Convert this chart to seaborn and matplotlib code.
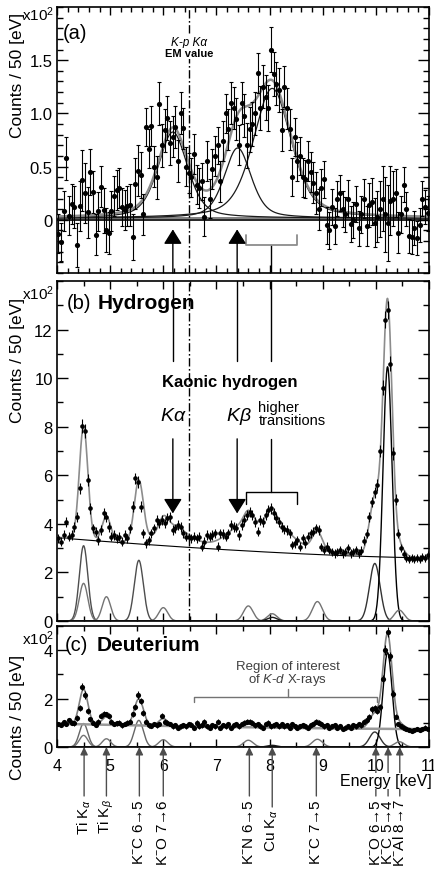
import numpy as np
import pandas as pd
import matplotlib
matplotlib.use("Agg")
import matplotlib.pyplot as plt
import seaborn as sns
from matplotlib.ticker import MultipleLocator
from matplotlib.patches import ArrowStyle
import matplotlib.transforms as mtransforms

# ---------------- data (counts in units of 10^2 per 50 eV bin) ----------------
bin_first_center = 4.025
bin_width = 0.05
n_bins = 140

# (a) background-subtracted K-p spectrum
resid_a = [
    -0.13, -0.21, 0.08, 0.58, 0.04, 0.15, 0.12, -0.24, 0.13, 0.37, 0.25, 0.07, 0.45, 0.26, -0.14, 0.08, 0.31, 0.09, -0.10, -0.12,
    0.08, 0.22, 0.28, 0.30, 0.12, 0.09, 0.13, 0.14, -0.16, 0.34, 0.46, 0.42, 0.05, 0.87, 0.67, 0.88, 0.50, 0.40, 1.09, 0.70,
    0.84, 0.96, 0.72, 0.78, 0.87, 0.55, 1.00, 0.86, 0.50, 0.44, 0.40, 0.62, 0.33, 0.30, 0.36, 0.03, 0.55, 0.20, 0.48, 0.60,
    0.70, 0.36, 0.74, 1.00, 0.85, 1.10, 1.05, 0.95, 0.70, 1.10, 0.98, 0.70, 0.85, 0.90, 1.00, 1.38, 1.05, 1.25, 1.15, 1.05,
    1.60, 1.37, 1.28, 1.22, 0.84, 1.25, 1.05, 0.85, 0.40, 0.78, 0.55, 0.60, 0.40, 0.38, 0.55, 0.45, 0.35, 0.25, 0.10, 0.30,
    0.38, -0.05, -0.10, 0.12, -0.06, 0.20, 0.25, 0.10, 0.05, 0.20, -0.04, 0.00, 0.15, -0.08, 0.05, 0.20, -0.06, 0.14, 0.17, -0.03,
    0.03, 0.10, 0.20, 0.05, -0.03, 0.18, 0.20, 0.25, -0.12, 0.05, 0.33, 0.10, -0.15, -0.16, -0.08, -0.17, -0.05, 0.20, 0.12, 0.06,
]

# (b) hydrogen spectrum
counts_b = [
    3.40, 3.27, 3.54, 4.09, 3.47, 3.54, 3.88, 4.29, 5.46, 8.04, 7.83, 5.80, 4.64, 3.81, 3.68, 3.33, 3.74, 4.43, 4.27, 3.88,
    3.47, 3.54, 3.40, 3.47, 3.27, 3.54, 3.40, 3.81, 4.71, 5.87, 5.73, 4.71, 3.61, 3.20, 3.33, 3.61, 3.81, 4.16, 4.02, 4.16,
    4.02, 4.23, 4.29, 3.74, 3.81, 3.95, 3.88, 3.61, 3.47, 3.44, 3.40, 3.47, 3.40, 3.47, 3.06, 3.27, 3.54, 3.47, 3.54, 3.61,
    3.06, 3.61, 3.58, 3.47, 3.61, 3.95, 3.88, 3.85, 3.54, 3.95, 4.16, 4.36, 4.50, 4.36, 4.09, 3.68, 4.16, 4.09, 4.36, 4.57,
    4.64, 4.43, 4.23, 4.09, 3.88, 3.77, 3.74, 3.61, 3.13, 3.20, 3.33, 3.06, 3.40, 3.20, 3.47, 3.61, 3.68, 3.81, 3.74, 3.05,
    2.92, 3.06, 2.92, 2.85, 2.78, 2.85, 2.92, 2.78, 2.85, 2.99, 2.78, 2.85, 2.92, 2.78, 2.90, 3.30, 3.60, 4.30, 4.90, 5.30,
    5.60, 7.00, 9.60, 12.40, 12.80, 10.60, 6.90, 5.00, 3.60, 3.00, 2.75, 2.60, 2.55, 2.60, 2.55, 2.60, 2.55, 2.65, 2.60, 2.70,
]

# (c) deuterium spectrum
counts_c = [
    0.95, 0.92, 1.02, 0.95, 1.10, 1.00, 0.98, 1.20, 1.60, 2.50, 2.15, 1.50, 1.15, 1.00, 0.92, 1.05, 1.30, 1.38, 1.35, 1.30,
    1.05, 0.95, 0.98, 1.00, 0.90, 0.95, 1.00, 1.05, 1.35, 1.65, 2.15, 1.90, 1.40, 1.05, 0.90, 0.88, 0.95, 0.90, 0.95, 1.30,
    1.05, 1.00, 0.95, 0.85, 0.90, 0.80, 0.85, 0.90, 0.85, 0.95, 0.92, 0.80, 1.00, 0.85, 0.90, 1.05, 0.85, 0.80, 0.90, 0.85,
    1.05, 0.80, 0.90, 0.85, 0.95, 0.80, 0.90, 0.95, 0.85, 0.95, 1.00, 1.05, 1.05, 1.00, 0.90, 0.95, 0.85, 0.80, 0.95, 1.00,
    0.85, 0.90, 0.95, 0.85, 0.95, 0.85, 0.90, 0.80, 0.95, 0.85, 0.80, 0.85, 0.90, 0.85, 0.80, 0.90, 0.95, 1.05, 1.00, 0.95,
    0.85, 0.90, 0.80, 0.85, 0.90, 0.80, 0.85, 0.75, 0.80, 0.85, 0.80, 0.90, 0.85, 0.95, 0.90, 1.05, 1.10, 1.25, 1.55, 1.60,
    1.50, 1.65, 2.80, 4.00, 4.75, 3.75, 2.20, 1.25, 0.95, 0.85, 0.80, 0.75, 0.70, 0.65, 0.70, 0.75, 0.70, 0.75, 0.80, 0.75,
]

# K-p signal fit (a): pseudo-Voigt lines
kp_center = [6.18, 7.40, 8.05]
kp_height = [0.81, 0.66, 1.22]
kp_fwhm = [0.66, 0.60, 0.85]
kp_offset = 0.015

# hydrogen fit components (b)
comp_center_b = [4.50, 4.50, 4.93, 5.54, 6.00, 7.60, 8.05, 8.05, 8.90, 9.98, 10.22, 10.44]
comp_height_b = [3.10, 1.55, 1.00, 2.50, 0.55, 0.62, 0.30, 0.15, 0.80, 2.37, 10.47, 0.45]
comp_sigma_b = [0.08, 0.08, 0.08, 0.085, 0.085, 0.09, 0.09, 0.09, 0.095, 0.10, 0.085, 0.09]
bg_b = (2.60, 0.83, 1.5)

# deuterium fit components (c)
comp_center_c = [4.50, 4.50, 4.93, 5.54, 6.00, 7.60, 8.05, 8.90, 9.98, 10.22, 10.44]
comp_height_c = [0.97, 0.48, 0.34, 1.10, 0.30, 0.28, 0.07, 0.32, 0.62, 3.90, 0.22]
comp_sigma_c = [0.08, 0.08, 0.08, 0.085, 0.085, 0.09, 0.09, 0.095, 0.10, 0.085, 0.09]
bg_c = (0.74, 0.22, 1.5)

em_value = 6.48
ka_arrow, kb_arrow, higher_center = 6.18, 7.39, 8.02
higher_range = (7.55, 8.51)
roi_range = (6.58, 10.03)
roi_center = 8.34

line_energy = [4.51, 4.93, 5.55, 6.00, 7.62, 8.05, 8.88, 10.00, 10.23, 10.45]
line_label = [r"Ti K$_{\alpha}$", r"Ti K$_{\beta}$", r"K$^{-}$C 6→5", r"K$^{-}$O 7→6",
              r"K$^{-}$N 6→5", r"Cu K$_{\alpha}$", r"K$^{-}$C 7→5", r"K$^{-}$O 6→5",
              r"K$^{-}$C 5→4", r"K$^{-}$Al 8→7"]

# ---------------- model helpers ----------------
energy = bin_first_center + bin_width * np.arange(n_bins)
grid = np.linspace(4.0, 11.0, 1401)


def pvoigt(x, c, h, w, eta=0.45):
    u = (x - c) / w
    return h * (eta / (1 + 4 * u ** 2) + (1 - eta) * np.exp(-4 * np.log(2) * u ** 2))


def gauss(x, c, h, s):
    return h * np.exp(-0.5 * ((x - c) / s) ** 2)


def background(x, p):
    low, amp, pw = p
    return low + amp * ((11.0 - x) / 7.0) ** pw


kp_lines = [pvoigt(grid, c, h, w) for c, h, w in zip(kp_center, kp_height, kp_fwhm)]
kp_total = kp_offset + np.sum(kp_lines, axis=0)
comps_b = [gauss(grid, c, h, s) for c, h, s in zip(comp_center_b, comp_height_b, comp_sigma_b)]
bgb = background(grid, bg_b)
total_b = bgb + np.sum(comps_b, axis=0) + np.sum(kp_lines, axis=0)
comps_c = [gauss(grid, c, h, s) for c, h, s in zip(comp_center_c, comp_height_c, comp_sigma_c)]
bgc = background(grid, bg_c)
total_c = bgc + np.sum(comps_c, axis=0)

df = pd.DataFrame({"E": energy, "a": resid_a, "b": counts_b, "c": counts_c})
df["err_b"] = np.sqrt(df["b"] * 100) / 100
df["err_c"] = np.sqrt(df["c"] * 100) / 100

# ---------------- style ----------------
sns.set_style("ticks")
plt.rcParams["font.family"] = ["Liberation Sans", "DejaVu Sans"]
plt.rcParams["mathtext.fontset"] = "custom"
plt.rcParams["mathtext.rm"] = "Liberation Sans"
plt.rcParams["mathtext.it"] = "Liberation Sans:italic"
plt.rcParams["mathtext.bf"] = "Liberation Sans:bold"
plt.rcParams["mathtext.sf"] = "Liberation Sans"
plt.rcParams["axes.linewidth"] = 1.2
plt.rcParams["text.color"] = "black"
plt.rcParams["axes.labelcolor"] = "black"
plt.rcParams["xtick.color"] = "black"
plt.rcParams["ytick.color"] = "black"
plt.rcParams["axes.edgecolor"] = "black"

W, H = 435, 870
fig = plt.figure(figsize=(W / 100, H / 100), dpi=100)
L, R = 57, 429


def add_ax(top, bottom):
    return fig.add_axes([L / W, 1 - bottom / H, (R - L) / W, (bottom - top) / H])


axA = add_ax(8, 274)
axB = add_ax(282, 622)
axC = add_ax(627, 748)

for ax in (axA, axB, axC):
    ax.set_xlim(4, 11)
    ax.xaxis.set_major_locator(MultipleLocator(1))
    ax.tick_params(which="both", direction="in", top=True, right=True, width=1.0, colors="k")
    ax.tick_params(axis="y", which="major", length=8, labelsize=12, pad=3)
    ax.tick_params(axis="y", which="minor", length=4)
    ax.tick_params(axis="x", which="major", length=6)
    ax.tick_params(axis="x", which="minor", length=3.5)
    for s in ax.spines.values():
        s.set_color("k")
        s.set_linewidth(1.2)

axA.xaxis.set_minor_locator(MultipleLocator(0.2))
axB.xaxis.set_minor_locator(MultipleLocator(0.5))
axC.xaxis.set_minor_locator(MultipleLocator(0.5))
axA.tick_params(axis="x", labelbottom=False)
axB.tick_params(axis="x", labelbottom=False)
axC.tick_params(axis="x", labelsize=11.5, pad=8)

# ---------------- panel (a) ----------------
axA.set_ylim(-0.5, 2.0)
axA.set_yticks([0, 0.5, 1.0, 1.5])
axA.set_yticklabels(["0", "0.5", "1.0", "1.5"])
axA.yaxis.set_minor_locator(MultipleLocator(0.1))
axA.axhline(0, color="k", lw=1.2, zorder=2)
axA.axhline(0.02, color="0.5", lw=1.4, zorder=2)
for line in kp_lines:
    sns.lineplot(x=grid, y=kp_offset + line, ax=axA, color="0.1", lw=0.9, sort=False, estimator=None, zorder=3)
sns.lineplot(x=grid, y=kp_total, ax=axA, color="0.55", lw=1.8, sort=False, estimator=None, zorder=3)
axA.errorbar(df["E"], df["a"], yerr=df["err_b"], fmt="none", ecolor="k", elinewidth=0.8, capsize=1.2, capthick=0.8, zorder=4)
sns.scatterplot(data=df, x="E", y="a", ax=axA, color="k", s=14, linewidth=0, zorder=5)
axA.axvline(em_value, color="k", lw=1.0, ls=(0, (6, 1.8, 1.2, 1.8)), zorder=2)
axA.text(em_value, 1.67, "K-p Kα", style="italic", fontsize=8.5, ha="center", va="center",
         bbox=dict(facecolor="white", edgecolor="none", pad=0.6), zorder=6)
axA.text(em_value, 1.565, "EM value", weight="bold", fontsize=8, ha="center", va="center",
         bbox=dict(facecolor="white", edgecolor="none", pad=0.6), zorder=6)
axA.text(0.016, 0.906, "(a)", transform=axA.transAxes, fontsize=14.5, ha="left", va="center")
arrow_big = ArrowStyle("-|>", head_length=0.45, head_width=0.28)
for x in (ka_arrow, kb_arrow):
    axA.annotate("", xy=(x, -0.09), xytext=(x, -0.5),
                 arrowprops=dict(arrowstyle=arrow_big, color="k", lw=1.0, shrinkA=0, shrinkB=0, mutation_scale=20))
axA.plot([higher_center, higher_center], [-0.5, -0.24], color="k", lw=1.0)
axA.plot([higher_range[0], higher_range[0], higher_range[1], higher_range[1]], [-0.14, -0.24, -0.24, -0.14],
         color="0.55", lw=1.3)
axA.set_xlabel("")
axA.set_ylabel("")

# ---------------- panel (b) ----------------
axB.set_ylim(0, 14)
axB.set_yticks([0, 2, 4, 6, 8, 10, 12])
axB.yaxis.set_minor_locator(MultipleLocator(1))
comp_color_b = ["0.3", "0.45", "0.45", "0.3", "0.45", "0.45", "0.45", "0.1", "0.45", "0.2", "0.0", "0.45"]
for comp, col in zip(comps_b, comp_color_b):
    sns.lineplot(x=grid, y=comp, ax=axB, color=col, lw=1.0, sort=False, estimator=None, zorder=2)
sns.lineplot(x=grid, y=bgb, ax=axB, color="k", lw=0.8, sort=False, estimator=None, zorder=2)
sns.lineplot(x=grid, y=total_b, ax=axB, color="0.55", lw=1.2, sort=False, estimator=None, zorder=3)
axB.errorbar(df["E"], df["b"], yerr=df["err_b"], fmt="none", ecolor="k", elinewidth=0.8, zorder=4)
sns.scatterplot(data=df, x="E", y="b", ax=axB, color="k", s=11, linewidth=0, zorder=5)
axB.axvline(em_value, color="k", lw=1.0, ls=(0, (6, 1.8, 1.2, 1.8)), zorder=2)
for x in (ka_arrow, kb_arrow, higher_center):
    axB.plot([x, x], [10.7, 14], color="k", lw=1.0)
for x in (ka_arrow, kb_arrow):
    axB.annotate("", xy=(x, 4.43), xytext=(x, 7.5),
                 arrowprops=dict(arrowstyle=arrow_big, color="k", lw=1.0, shrinkA=0, shrinkB=0, mutation_scale=20))
axB.plot([higher_range[0], higher_range[0], higher_range[1], higher_range[1]], [4.83, 5.3, 5.3, 4.83],
         color="k", lw=1.0)
axB.plot([higher_center, higher_center], [5.3, 7.5], color="k", lw=1.0)
axB.text(7.25, 9.88, "Kaonic hydrogen", weight="bold", fontsize=12, ha="center", va="center")
axB.text(ka_arrow, 8.45, r"$K\alpha$", fontsize=14, ha="center", va="center")
axB.text(kb_arrow + 0.03, 8.45, r"$K\beta$", fontsize=14, ha="center", va="center")
axB.text(7.79, 8.55, "higher\ntransitions", fontsize=10.5, ha="left", va="center", linespacing=0.85)
axB.text(0.027, 0.938, "(b)", transform=axB.transAxes, fontsize=14.5, ha="left", va="center")
axB.text(0.11, 0.938, "Hydrogen", transform=axB.transAxes, fontsize=15, weight="bold", ha="left", va="center")
axB.set_xlabel("")
axB.set_ylabel("")

# ---------------- panel (c) ----------------
axC.set_ylim(0, 5)
axC.set_yticks([0, 2, 4])
axC.yaxis.set_minor_locator(MultipleLocator(1))
comp_color_c = ["0.4", "0.45", "0.45", "0.4", "0.45", "0.45", "0.1", "0.45", "0.2", "0.0", "0.45"]
for comp, col in zip(comps_c, comp_color_c):
    sns.lineplot(x=grid, y=comp, ax=axC, color=col, lw=1.0, sort=False, estimator=None, zorder=2)
sns.lineplot(x=grid, y=bgc, ax=axC, color="0.6", lw=1.8, sort=False, estimator=None, zorder=2)
sns.lineplot(x=grid, y=total_c, ax=axC, color="0.5", lw=1.2, sort=False, estimator=None, zorder=3)
axC.errorbar(df["E"], df["c"], yerr=df["err_c"], fmt="none", ecolor="k", elinewidth=0.8, zorder=4)
sns.scatterplot(data=df, x="E", y="c", ax=axC, color="k", s=14, linewidth=0, zorder=5)
axC.plot([roi_range[0], roi_range[0], roi_range[1], roi_range[1]], [1.86, 2.07, 2.07, 1.86], color="0.45", lw=1.0)
axC.plot([roi_center, roi_center], [2.07, 2.38], color="0.45", lw=1.0)
axC.text(roi_center, 3.35, "Region of interest", fontsize=9.5, color="0.25", ha="center", va="center")
axC.text(roi_center, 2.81, r"of $K$-$d$ X-rays", fontsize=9.5, color="0.25", ha="center", va="center")
axC.text(0.0215, 0.85, "(c)", transform=axC.transAxes, fontsize=14.5, ha="left", va="center")
axC.text(0.1075, 0.85, "Deuterium", transform=axC.transAxes, fontsize=15, weight="bold", ha="left", va="center")
axC.set_xlabel("")
axC.set_ylabel("")

# ---------------- shared labels ----------------
for top_px, mult_px in ((13, 15), (298, 294), (655, 639)):
    fig.text(18 / W, 1 - top_px / H, "Counts / 50 [eV]", rotation=90, ha="center", va="top", fontsize=12.5)
    fig.text(54 / W, 1 - mult_px / H, r"x10$^{2}$", ha="right", va="center", fontsize=11)

# bottom line labels with arrows
trans = mtransforms.blended_transform_factory(axC.transData, fig.transFigure)
arrow_small = ArrowStyle("-|>", head_length=0.45, head_width=0.22)
for e, lab in zip(line_energy, line_label):
    top_px = 810 if lab.startswith("Cu") else 799
    axC.annotate("", xy=(e, 0), xycoords=("data", "axes fraction"),
                 xytext=(e, 1 - (top_px - 2) / H), textcoords=("data", "figure fraction"),
                 arrowprops=dict(arrowstyle=arrow_small, color="0.3", lw=1.0, shrinkA=0, shrinkB=0,
                                 mutation_scale=10), annotation_clip=False)
    fig.text(e, 1 - top_px / H, lab, transform=trans, rotation=90, ha="center", va="top", fontsize=11)

fig.text(432 / W, 1 - 782 / H, "Energy [keV]", ha="right", va="center", fontsize=11.5,
         bbox=dict(facecolor="white", edgecolor="none", pad=0.5))

fig.savefig("out.png", dpi=100)
